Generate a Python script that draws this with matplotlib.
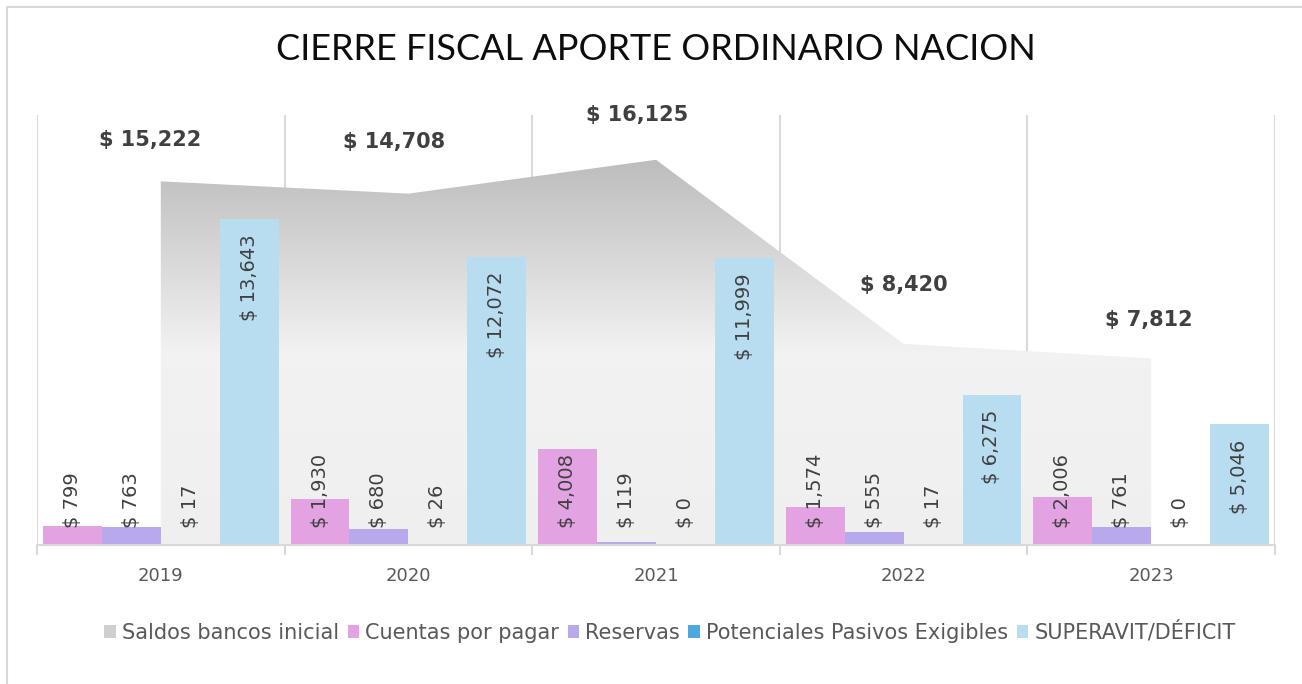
import numpy as np
import matplotlib
matplotlib.use("Agg")
import matplotlib.pyplot as plt
from matplotlib.patches import Patch, Rectangle

# Data
years = ["2019", "2020", "2021", "2022", "2023"]
saldos_bancos = [15222, 14708, 16125, 8420, 7812]
cuentas_pagar = [799, 1930, 4008, 1574, 2006]
reservas = [763, 680, 119, 555, 761]
pasivos_exigibles = [17, 26, 0, 17, 0]
superavit = [13643, 12072, 11999, 6275, 5046]

bar_series = [
    ("Cuentas por pagar", cuentas_pagar, "#E3A3E3"),
    ("Reservas", reservas, "#B7A9EC"),
    ("Potenciales Pasivos Exigibles", pasivos_exigibles, "#4EA8DE"),
    ("SUPERAVIT/DÉFICIT", superavit, "#B8DCF0"),
]

# manual nudges of the area labels (pixels), like the original chart
area_label_dx = [-11, -14, -19, 0, -2]
area_label_dy = [41, 52, 45, 59, 38]

TEXT_COLOR = "#404040"
GRID_COLOR = "#D9D9D9"
PT = 0.72  # points per pixel at dpi 100

W, H = 1302, 684
fig = plt.figure(figsize=(W / 100, H / 100), dpi=100)
fig.patch.set_facecolor("white")
ax = fig.add_axes([37 / W, 1 - 545 / H, (1275 - 37) / W, (545 - 115) / H])

# outer border (only top/left visible in the original)
fig.add_artist(Rectangle((7 / W, -0.1), 1.2, 1 - 7 / H + 0.1, transform=fig.transFigure,
                         fill=False, edgecolor="#D9D9D9", linewidth=1.5))

x = np.arange(len(years))
ax.set_xlim(-0.5, len(years) - 0.5)
ax.set_ylim(0, 18000)

# gradient area for Saldos bancos inicial
poly = ax.fill_between(x, saldos_bancos, 0, facecolor="none", edgecolor="none", zorder=1)
top = max(saldos_bancos)
yy = np.linspace(top, 0, 400)
mid = 8000
shade = np.where(yy > mid,
                 0.74 + (0.95 - 0.74) * (top - yy) / (top - mid),
                 0.95 - 0.012 * (mid - yy) / mid)
img = np.repeat(shade[:, None], 2, axis=1)
rgb = np.dstack([img, img, img])
im = ax.imshow(rgb, extent=(-0.5, len(years) - 0.5, 0, top), aspect="auto",
               interpolation="bilinear", zorder=1)
im.set_clip_path(poly.get_paths()[0], transform=ax.transData)

# vertical separators
for b in np.arange(-0.5, len(years), 1.0):
    ax.axvline(b, color=GRID_COLOR, lw=1.5, zorder=0.5)

# bars
bw = 0.238
bars_all = []
for k, (name, vals, col) in enumerate(bar_series):
    pos = x + (k - 1.5) * bw
    ax.bar(pos, vals, width=bw, color=col, zorder=2, label=name)
    bars_all.append((pos, vals))

for sp in ["top", "right", "left"]:
    ax.spines[sp].set_visible(False)
ax.spines["bottom"].set_color(GRID_COLOR)
ax.spines["bottom"].set_linewidth(1.5)
ax.set_yticks([])
ax.set_xticks(x)
ax.set_xticklabels(years, fontsize=13, color="#595959")
ax.tick_params(axis="x", length=0, pad=16)
ax.set_xticks(np.arange(-0.5, len(years), 1.0), minor=True)
ax.tick_params(axis="x", which="minor", length=7, width=1.5, color=GRID_COLOR)

# bar labels: inside end, but kept above the axis for short bars
fig.canvas.draw()
renderer = fig.canvas.get_renderer()
px_per_unit = (ax.transData.transform((0, 1000))[1] - ax.transData.transform((0, 0))[1]) / 1000
for pos, vals in bars_all:
    for xp, v in zip(pos, vals):
        t = ax.annotate(f"$ {v:,}", (xp, 0), xytext=(0, 17 * PT), textcoords="offset points",
                        rotation=90, ha="center", va="bottom", fontsize=14,
                        color=TEXT_COLOR, zorder=3)
        h = t.get_window_extent(renderer).height
        if v * px_per_unit - 15 > 17 + h:
            t.xy = (xp, v)
            t.set_position((0, -15 * PT))
            t.set_va("top")

# area labels
for i, v in enumerate(saldos_bancos):
    ax.annotate(f"$ {v:,}", (x[i], v),
                xytext=(area_label_dx[i] * PT, area_label_dy[i] * PT),
                textcoords="offset points", ha="center", va="center",
                fontsize=15, fontweight="bold", color=TEXT_COLOR, zorder=3)

fig.text(656 / W, 1 - 50 / H, "CIERRE FISCAL APORTE ORDINARIO NACION",
         ha="center", va="center", fontsize=26, family="Lato", fontweight="normal",
         color="#0D0D0D")

handles = [Patch(facecolor="#CFCFCF", label="Saldos bancos inicial")]
handles += [Patch(facecolor=c, label=n) for n, _, c in bar_series]
fig.legend(handles=handles, loc="center", bbox_to_anchor=(670 / W, 1 - 632 / H), ncol=5,
           frameon=False, fontsize=15, labelcolor="#595959", handlelength=0.55,
           handleheight=0.55, handletextpad=0.3, columnspacing=0.4)

fig.savefig("out.png", dpi=100)
